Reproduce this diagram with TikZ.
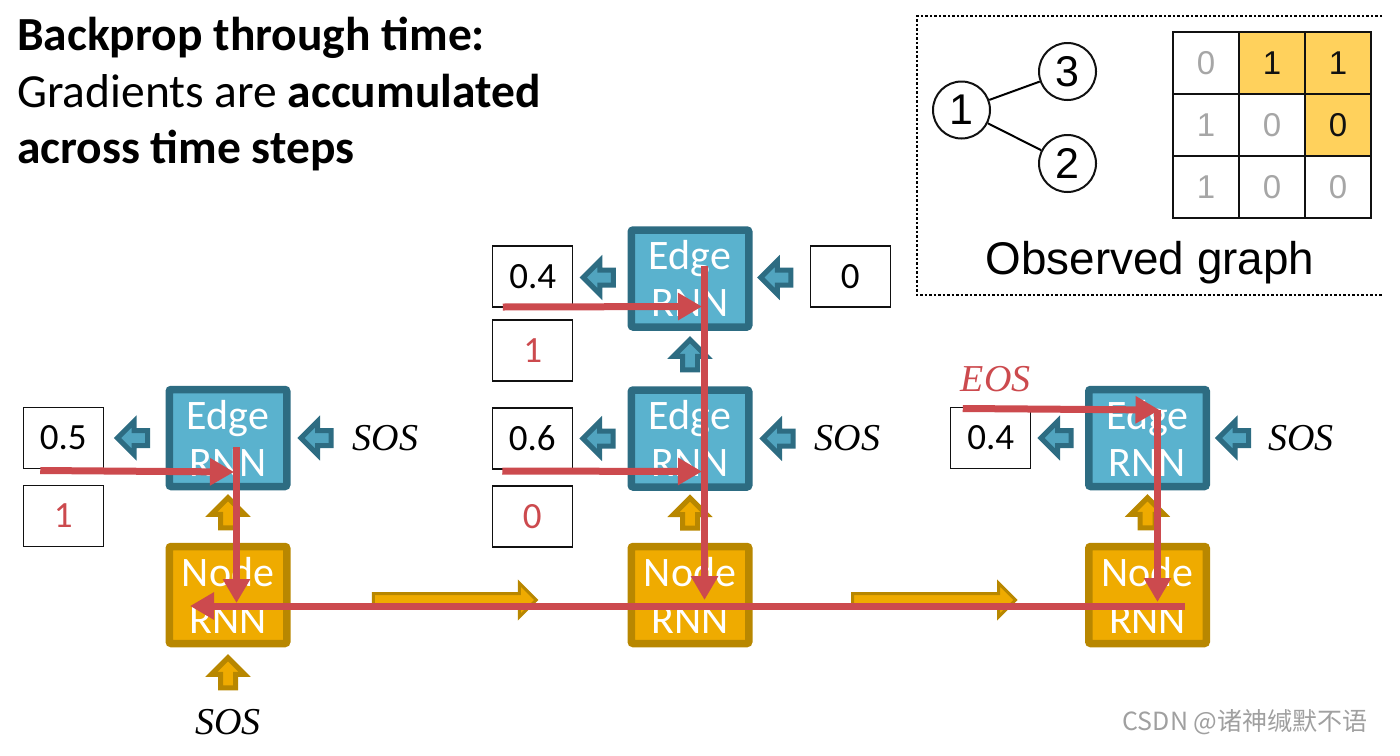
\documentclass[tikz,border=0pt]{standalone}
\usepackage{fontspec}
\setmainfont{Carlito}
\newfontfamily\helv{Liberation Sans}
\newfontfamily\sosfont{Liberation Serif}
\newfontfamily\cjk{Noto Sans CJK SC}
\usepackage{tikz}
\usetikzlibrary{positioning,arrows.meta,calc,shapes.arrows}
\definecolor{ink}      {HTML}{111111}
\definecolor{edgefill} {HTML}{5AB2CE}
\definecolor{edgeline} {HTML}{2D6C82}
\definecolor{nodefill} {HTML}{EFAB00}
\definecolor{nodeline} {HTML}{B88700}
\definecolor{gradred}  {HTML}{CC4A4E}
\definecolor{hot}      {HTML}{FFD15C}
\definecolor{dim}      {HTML}{A6A6A6}
\definecolor{wmgray}   {HTML}{A0A0A0}

\begin{document}
\begin{tikzpicture}[
  x=1pt, y=-1pt,
  edgernn/.style={draw=edgeline, fill=edgefill, line width=7.5pt, rounded corners=2pt,
                  minimum width=117.5pt, minimum height=97pt, align=center, text=white,
                  inner sep=0pt, outer sep=0pt, font=\fontsize{42}{47}\selectfont},
  nodernn/.style={edgernn, draw=nodeline, fill=nodefill},
  numbox/.style={draw=ink, line width=1.4pt, fill=white, minimum width=80pt, minimum height=61pt,
                 inner sep=0pt, outer sep=0pt, font=\fontsize{37}{40}\selectfont},
  tarrow/.style={single arrow, draw=edgeline, fill=edgefill!80!edgeline, line width=5pt, minimum height=30pt,
                 inner sep=5pt, single arrow head extend=9pt, outer sep=0pt},
  yarrow/.style={tarrow, draw=nodeline, fill=nodefill},
  sos/.style={font=\sosfont\itshape\fontsize{38}{40}\selectfont, inner sep=0pt},
  grad/.style={draw=gradred, line width=7pt, -{Triangle[length=24pt, width=26pt]}},
  gnode/.style={circle, draw=ink, line width=2pt, minimum size=57pt, inner sep=0pt,
                font=\helv\fontsize{43}{45}\selectfont},
  cell/.style={draw=ink, line width=2.7pt, minimum width=66pt, minimum height=62pt, inner sep=0pt,
               text=dim, font=\helv\fontsize{33}{35}\selectfont},
  hotcell/.style={cell, fill=hot, text=ink}
]
\useasboundingbox (0,0) rectangle (1400,755);

% title
\node[anchor=north west, align=left, inner sep=0pt, font=\fontsize{47.5}{56.5}\selectfont] (title) at (17,17)
  {\textbf{Backprop through time:}\\Gradients are \textbf{accumulated}\\\textbf{across time steps}};

% rnn cells
\node[nodernn] (n1) at (228,595) {Node\\RNN};
\node[nodernn, right=344.5pt of n1] (n2) {Node\\RNN};
\node[nodernn, right=340pt of n2] (n3) {Node\\RNN};
\node[edgernn, above=60pt of n1] (e1) {Edge\\RNN};
\node[edgernn, above=59.5pt of n2] (e2b) {Edge\\RNN};
\node[edgernn, above=63pt of e2b] (e2a) {Edge\\RNN};
\node[edgernn, above=60pt of n3] (e3) {Edge\\RNN};

% outputs and targets
\node[numbox, left=66pt of e1] (p1) {0.5};
\node[numbox, below=17pt of p1, text=gradred] (t1) {1};
\node[numbox, left=58.5pt of e2a, yshift=2pt] (p2a) {0.4};
\node[numbox, below=13pt of p2a, text=gradred] (t2a) {1};
\node[numbox, left=59pt of e2b] (p2b) {0.6};
\node[numbox, below=17pt of p2b, text=gradred] (t2b) {0};
\node[numbox, right=61.5pt of e2a, yshift=2pt] (in2a) {0};
\node[numbox, left=58pt of e3] (p3) {0.4};

\node[sos, right=66pt of e1] (sos1) {SOS};
\node[sos, right=66pt of e2b] (sos2) {SOS};
\node[sos, right=62pt of e3] (sos3) {SOS};
\node[sos, below=66pt of n1] (sos0) {SOS};
\node[sos, text=gradred, above=15pt of p3, xshift=5pt] (eos) {EOS};

% small block arrows
\node[tarrow, shape border rotate=180] (a1) at ($(p1.east)!0.5!(e1.west)$) {};
\node[tarrow, shape border rotate=180] (a2) at ($(e1.east)!0.5!(sos1.west)$) {};
\node[tarrow, shape border rotate=180] (a3) at ($(p2a.east)!0.5!(e2a.west)$) {};
\node[tarrow, shape border rotate=180] (a4) at ($(e2a.east)!0.5!(in2a.west)$) {};
\node[tarrow, shape border rotate=180] (a5) at ($(p2b.east)!0.5!(e2b.west)$) {};
\node[tarrow, shape border rotate=180] (a6) at ($(e2b.east)!0.5!(sos2.west)$) {};
\node[tarrow, shape border rotate=180] (a7) at ($(p3.east)!0.5!(e3.west)$) {};
\node[tarrow, shape border rotate=180] (a8) at ($(e3.east)!0.5!(sos3.west)$) {};
\node[tarrow, shape border rotate=90] (a9) at ($(e2b.north)!0.5!(e2a.south)$) {};
\node[yarrow, shape border rotate=90] (u1) at ($(n1.north)!0.5!(e1.south)$) {};
\node[yarrow, shape border rotate=90] (u2) at ($(n2.north)!0.5!(e2b.south)$) {};
\node[yarrow, shape border rotate=90] (u3) at ($(n3.north)!0.5!(e3.south)$) {};
\node[yarrow, shape border rotate=90] (u0) at ($(n1.south)!0.5!(sos0.north)$) {};
\node[yarrow, line width=3pt, minimum height=163pt, inner sep=5pt, single arrow head extend=10.5pt] (h1)
  at ($(n1.east)!0.5!(n2.west)+(-7.5,5)$) {};
\node[yarrow, line width=3pt, minimum height=163pt, inner sep=5pt, single arrow head extend=10.5pt] (h2)
  at ($(n2.east)!0.5!(n3.west)+(12,5)$) {};

% gradients flowing back
\draw[grad] ($(n3.center)+(37,11)$) -- ($(n1.center)+(-38,11)$);
\draw[grad] ($(p1.south west)+(17,2)$) -- ($(e1.center)+(6,34)$);
\draw[grad] ($(e1.center)+(8.5,9)$) -- ($(n1.center)+(8.5,8)$);
\draw[grad] ($(p2a.south west)+(10,0)$) -- ($(e2a.center)+(12,28)$);
\draw[grad] ($(p2b.south west)+(10,2)$) -- ($(e2b.center)+(12,33)$);
\draw[grad] ($(e2a.center)+(14.5,-13)$) -- ($(n2.center)+(14.5,5)$);
\draw[grad] ($(p3.north west)+(12,1)$) -- ($(e3.center)+(12,-28)$);
\draw[grad] ($(e3.center)+(10,-28)$) -- ($(n3.center)+(10,7)$);

% observed graph
\draw[line width=2.5pt, dash pattern=on 2.5pt off 2pt] (1382,16) -| (917,295) -- (1382,295);
\node[gnode] (g1) at (961.5,110) {1};
\node[gnode] (g3) at (1067.5,71.5) {3};
\node[gnode] (g2) at (1067.5,163.5) {2};
\draw[line width=2pt] (g1) -- (g3);
\draw[line width=2pt] (g1) -- (g2);
\foreach \r/\c/\v/\st in {1/1/0/cell, 1/2/1/hotcell, 1/3/1/hotcell,
                          2/1/1/cell, 2/2/0/cell, 2/3/0/hotcell,
                          3/1/1/cell, 3/2/0/cell, 3/3/0/cell}
  \node[\st] (m\r\c) at ({1140+66*\c},{1+62*\r}) {\v};
\node[font=\helv\fontsize{45.8}{48}\selectfont, inner sep=0pt] (obs) at (1150,263) {Observed graph};

\node[font=\cjk\fontsize{25}{27}\selectfont, text=wmgray, inner sep=0pt] (wm) at (1245,722) {CSDN @诸神缄默不语};
\end{tikzpicture}
\end{document}
